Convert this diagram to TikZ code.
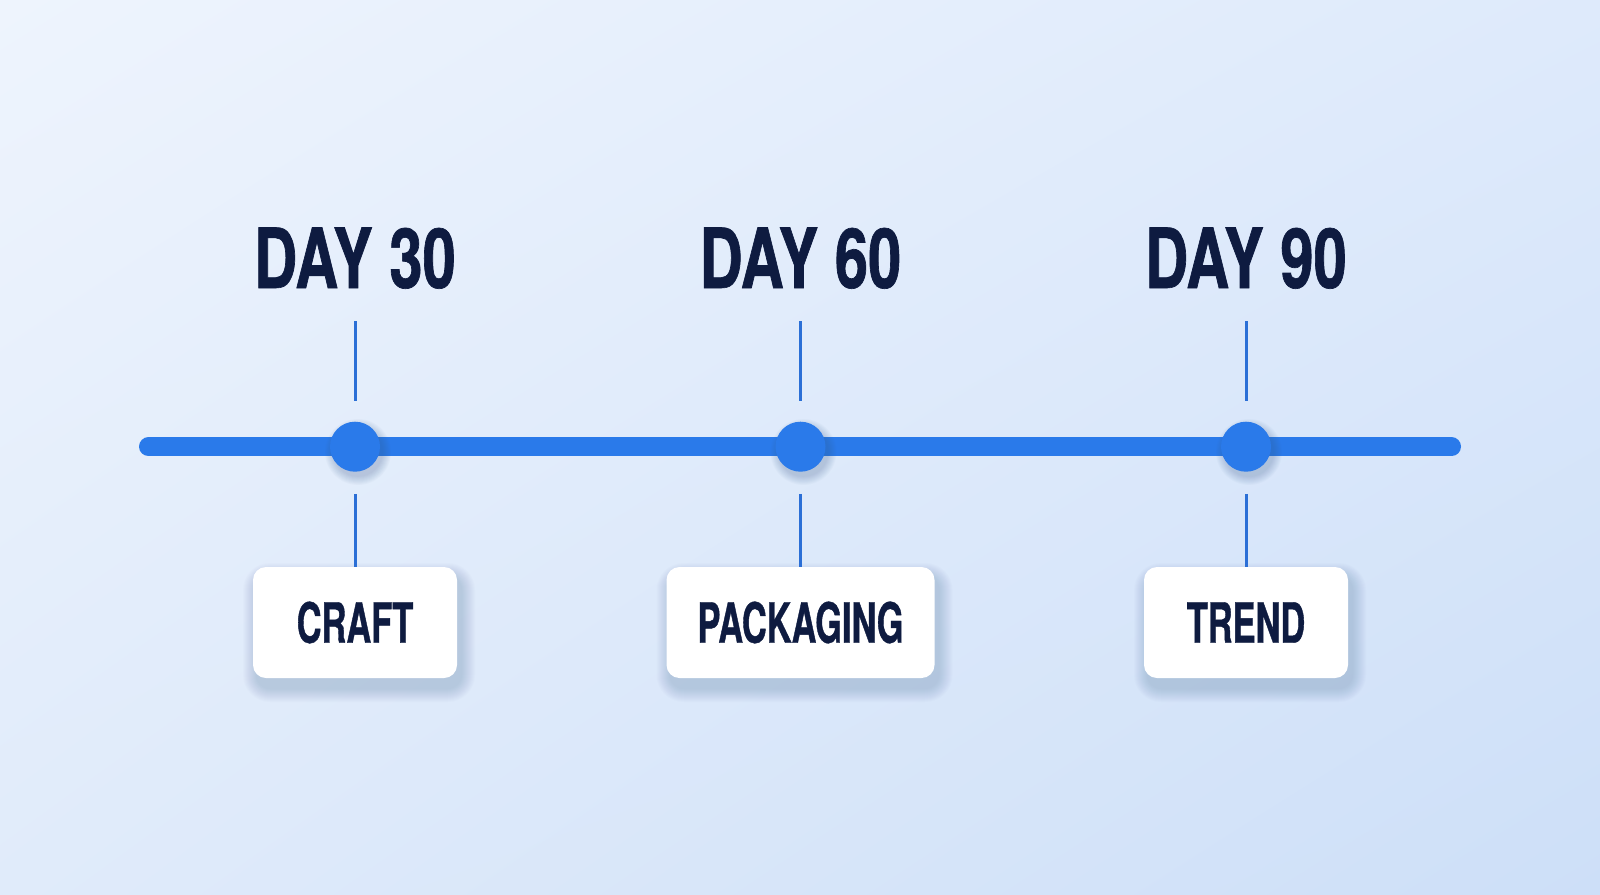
\documentclass[tikz,border=0pt]{standalone}
\usepackage{fontspec}
\setmainfont{TeX Gyre Heros}
\newfontfamily\dayfont[FakeStretch=0.72,FakeBold=0.8]{TeX Gyre Heros}
\newfontfamily\labfont[FakeStretch=0.62,FakeBold=0.7]{TeX Gyre Heros}
\usetikzlibrary{shadings}
\definecolor{navy}{HTML}{0E1B40}
\definecolor{tl}{HTML}{2A7AEA}
\definecolor{tk}{HTML}{2B6FD6}
\definecolor{shc}{HTML}{3A5A8C}
\definecolor{bgA}{HTML}{EEF4FD}
\definecolor{bgB}{HTML}{DEEAFB}
\definecolor{bgC}{HTML}{E0EBFA}
\definecolor{bgD}{HTML}{CDDFF8}
\tikzset{
  daylbl/.style={anchor=base, text=navy, font=\dayfont\bfseries\fontsize{83}{90}\selectfont, inner sep=0pt},
  dotnode/.style={circle, fill=tl, minimum size=50pt, inner sep=0pt},
  labbox/.style={rectangle, rounded corners=13pt, fill=white, minimum width=204pt, minimum height=111pt,
    inner sep=0pt, text=navy, font=\labfont\bfseries\fontsize{55.5}{60}\selectfont},
  tick/.style={draw=tk, line width=3pt},
  mainline/.style={draw=tl, line width=19pt, line cap=round},
  softsh/.style={fill=shc, opacity=0.016}
}
\newcommand\boxshadow[2]{%
  \foreach \k in {1,...,14}{%
    \pgfmathsetmacro\rr{13+\k}%
    \fill[softsh, rounded corners=\rr pt] (#1-#2+4-\k, 567+10-\k) rectangle (#1+#2+4+\k, 678+10+\k);
  }}
\newcommand\dotshadow[1]{%
  \foreach \k in {1,...,10}{%
    \fill[fill=shc, opacity=0.028] (#1+3, 452) circle[radius=24+\k*0.9];
  }}
\begin{document}
\begin{tikzpicture}[x=1pt,y=-1pt]
\useasboundingbox (0,0) rectangle (1600,894);
\shade[upper left=bgA, upper right=bgB, lower left=bgC, lower right=bgD] (0,0) rectangle (1600,894);
% main line
\coordinate (lstart) at (148.5,446.7);
\coordinate (lend) at (1451.5,446.7);
\draw[mainline] (lstart) -- (lend);
% soft shadows
\dotshadow{355}\dotshadow{800.5}\dotshadow{1246}
\boxshadow{355}{102}\boxshadow{800.5}{134}\boxshadow{1246}{102}
% dots
\node[dotnode] (d1) at (355,446.7) {};
\node[dotnode] (d2) at (800.5,446.7) {};
\node[dotnode] (d3) at (1246,446.7) {};
% day labels
\node[daylbl] (t1) at (355,288) {DAY 30};
\node[daylbl] (t2) at (800.5,288) {DAY 60};
\node[daylbl] (t3) at (1246,288) {DAY 90};
% boxes
\node[labbox] (b1) at (355,622.5) {CRAFT};
\node[labbox, minimum width=268pt] (b2) at (800.5,622.5) {PACKAGING};
\node[labbox] (b3) at (1246,622.5) {TREND};
% ticks
\foreach \i in {1,2,3}{
  \draw[tick] ([yshift=-33pt]t\i.base) -- ([yshift=21pt]d\i.north);
  \draw[tick] ([yshift=-22pt]d\i.south) -- (b\i.north);
}
\end{tikzpicture}
\end{document}
